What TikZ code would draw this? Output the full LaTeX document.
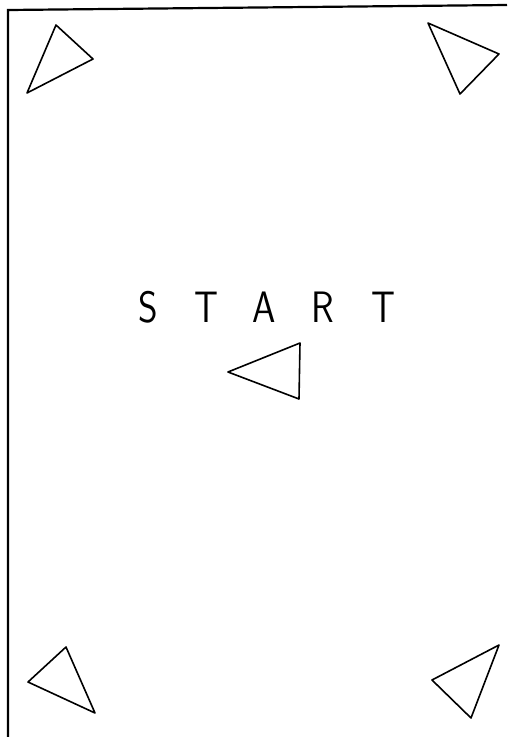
\documentclass[tikz,border=0pt]{standalone}
\usetikzlibrary{positioning}
\tikzset{>=latex}
\tikzset{tri/.style={line width=1.6pt, line join=round},
  letter/.style={font=\sffamily\fontsize{44}{44}\selectfont, anchor=base,
    inner sep=0pt, xscale=0.85}}

\begin{document}
\begin{tikzpicture}[x=1pt, y=-1pt]
  \useasboundingbox (0,0) rectangle (509,737);
  % frame, left and top only
  \draw[line width=2.2pt] (8,737) -- (8,10) -- (507,5);
  % corner triangles
  \draw[tri] (56,25) -- (93,59) -- (27,93) -- cycle; %
  \draw[tri] (428,23) -- (499,54) -- (460,94) -- cycle; %
  \draw[tri] (66,647) -- (95,713) -- (28,682) -- cycle; %
  \draw[tri] (499,645) -- (471,718) -- (432,680) -- cycle; %
  % middle one, pointing left
  \draw[tri] (228,372) -- (300,343) -- (299,399) -- cycle; %
  \foreach \c/\x [count=\i] in {S/148,T/206,A/264,R/323,T/383}
    \node[letter] (l\i) at (\x,322) {\c};
\end{tikzpicture}
\end{document}
